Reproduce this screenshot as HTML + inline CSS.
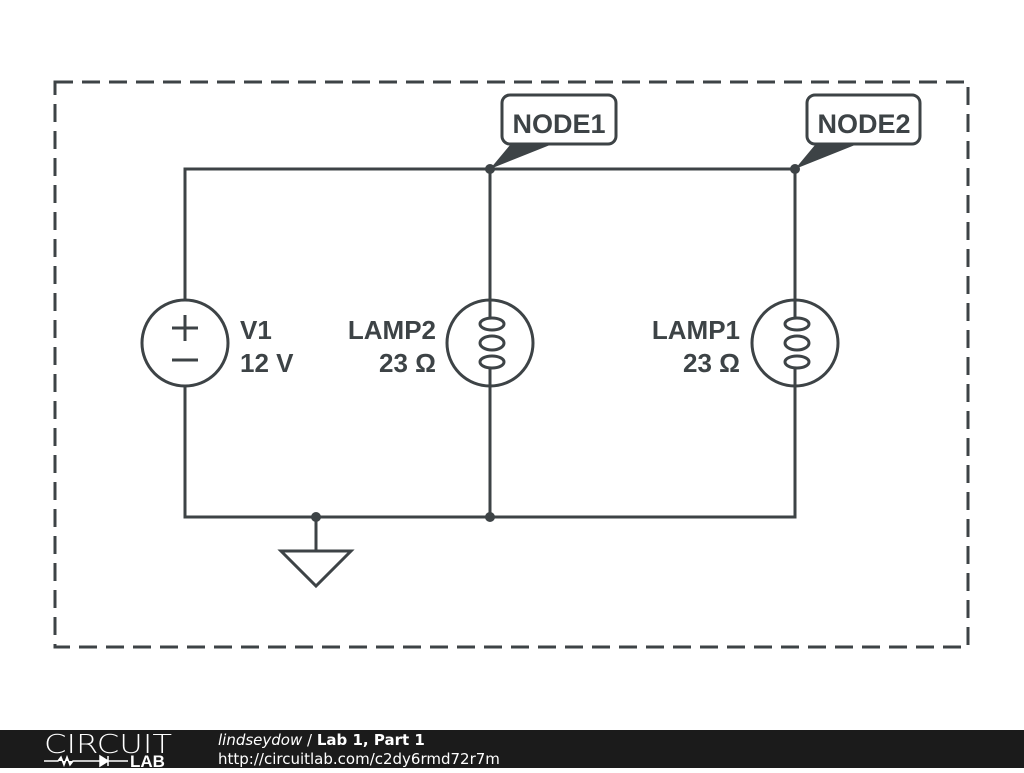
<!DOCTYPE html>
<html><head><style>
body{margin:0;width:1024px;height:768px;background:#fff;overflow:hidden;font-family:"Liberation Sans",sans-serif}
</style></head><body>
<svg width="1024" height="768" viewBox="0 0 1024 768" xmlns="http://www.w3.org/2000/svg">
<rect x="55" y="82" width="913" height="565" fill="none" stroke="#3d4346" stroke-width="3" stroke-dasharray="18,9"/>
<g stroke="#3d4346" stroke-width="3" fill="none">
<path d="M185 300 V169 H795 V300 M185 386 V517 H795 V386 M490 169 V300 M490 386 V517"/>
<circle cx="185" cy="343" r="43"/>
<circle cx="490" cy="343" r="43"/>
<circle cx="795" cy="343" r="43"/>
<path d="M172 328 H198 M185 315 V341 M172 360 H198"/>
<path d="M316 517 V551 M281 551 H351 L316 586 Z"/>
<path d="M490 300 V318 M490 368 V386 M795 300 V318 M795 368 V386"/>
<ellipse cx="492" cy="324" rx="12" ry="6"/><ellipse cx="492" cy="343" rx="12" ry="7"/><ellipse cx="492" cy="362" rx="12" ry="6"/>
<ellipse cx="797" cy="324" rx="12" ry="6"/><ellipse cx="797" cy="343" rx="12" ry="7"/><ellipse cx="797" cy="362" rx="12" ry="6"/>
<rect x="502" y="95" width="114" height="49" rx="8" fill="#fff"/>
<rect x="807" y="95" width="113" height="49" rx="8" fill="#fff"/>
</g>
<g fill="#3d4346">
<circle cx="490" cy="169" r="5"/><circle cx="795" cy="169" r="5"/><circle cx="490" cy="517" r="5"/><circle cx="316" cy="517" r="5"/>
<polygon points="490,169 510,145 550,145"/><polygon points="795,169 815,145 855,145"/>
</g>
<g fill="#3d4346" font-weight="bold" font-size="26">
<text x="559" y="133" text-anchor="middle" font-size="27">NODE1</text>
<text x="864" y="133" text-anchor="middle" font-size="27">NODE2</text>
<text x="240" y="339">V1</text><text x="240" y="372">12 V</text>
<text x="436" y="339" text-anchor="end">LAMP2</text><text x="436" y="372" text-anchor="end">23 Ω</text>
<text x="740" y="339" text-anchor="end">LAMP1</text><text x="740" y="372" text-anchor="end">23 Ω</text>
</g>
<rect x="0" y="730" width="1024" height="38" fill="#1b1b1b"/>
<text x="44" y="753" fill="#fff" font-size="26" textLength="128" lengthAdjust="spacingAndGlyphs" font-family="DejaVu Sans,sans-serif" font-weight="200">CIRCUIT</text>
<path d="M44 761 H58 l3 -4 3 8 3 -8 3 8 3 -4 H80 M80 761 H100 M100 756 V766 L108 761 Z M108 756 V766 M108 761 H128" stroke="#fff" stroke-width="1.5" fill="#fff"/>
<text x="130" y="767" fill="#fff" font-size="17" font-weight="bold">LAB</text>
<g font-family="DejaVu Sans,sans-serif" font-size="15" fill="#fff">
<text x="218" y="745"><tspan font-style="italic">lindseydow</tspan> / <tspan font-weight="bold">Lab 1, Part 1</tspan></text>
<text x="218" y="764">http://circuitlab.com/c2dy6rmd72r7m</text>
</g>
</svg>
</body></html>
